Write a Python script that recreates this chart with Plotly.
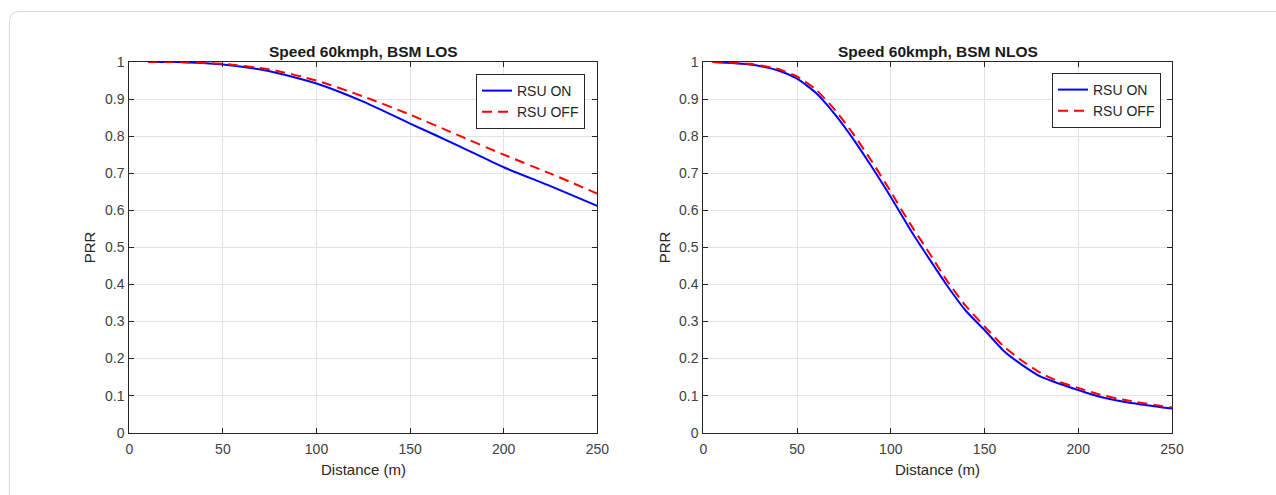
import plotly.graph_objects as go

# ---------------- data ----------------
los_x = [10, 25, 50, 75, 100, 125, 150, 175, 200, 225, 250]
los_on = [1.0, 1.0, 0.993, 0.975, 0.942, 0.893, 0.834, 0.776, 0.716, 0.665, 0.612]
los_off = [1.0, 1.0, 0.995, 0.980, 0.950, 0.907, 0.858, 0.804, 0.750, 0.699, 0.645]

nlos_x = [5, 25, 40, 50, 60, 70, 80, 90, 100, 110, 120, 130, 140, 150, 160, 170,
          180, 190, 200, 210, 225, 250]
nlos_on = [1.0, 0.993, 0.977, 0.955, 0.917, 0.860, 0.792, 0.716, 0.636, 0.551, 0.473,
           0.397, 0.329, 0.277, 0.222, 0.183, 0.151, 0.132, 0.115, 0.099, 0.083, 0.065]
nlos_off = [1.0, 0.995, 0.981, 0.961, 0.926, 0.872, 0.806, 0.731, 0.650, 0.566, 0.489,
            0.410, 0.342, 0.287, 0.234, 0.194, 0.161, 0.137, 0.121, 0.105, 0.088, 0.068]

titles = ["Speed 60kmph, BSM LOS", "Speed 60kmph, BSM NLOS"]
series_names = ["RSU ON", "RSU OFF"]
x_ticks = [0, 50, 100, 150, 200, 250]
y_ticks = [0, 0.1, 0.2, 0.3, 0.4, 0.5, 0.6, 0.7, 0.8, 0.9, 1]
y_tick_text = ["0", "0.1", "0.2", "0.3", "0.4", "0.5", "0.6", "0.7", "0.8", "0.9", "1"]

# ---------------- layout geometry ----------------
W, H = 1276, 495
def px(x):
    return x / W
def py(y):
    return 1 - y / H

dom_x1 = [px(129.3), px(597.3)]
dom_x2 = [px(703.3), px(1172)]
dom_y = [py(432.7), py(62)]

FONT = "Liberation Sans, Arial, Helvetica, sans-serif"
AXC = "#262626"
TICKC = "#404040"
GRID = "#e3e3e3"

fig = go.Figure()

fig.add_trace(go.Scatter(x=los_x, y=los_on, name=series_names[0], mode="lines",
                         line=dict(color="#0000ff", width=2, shape="spline", smoothing=0.6),
                         xaxis="x", yaxis="y", legend="legend"))
fig.add_trace(go.Scatter(x=los_x, y=los_off, name=series_names[1], mode="lines",
                         line=dict(color="#ff0000", width=2, dash="10px,6px", shape="spline", smoothing=0.6),
                         xaxis="x", yaxis="y", legend="legend"))
fig.add_trace(go.Scatter(x=nlos_x, y=nlos_on, name=series_names[0], mode="lines",
                         line=dict(color="#0000ff", width=2, shape="spline", smoothing=0.6),
                         xaxis="x2", yaxis="y2", legend="legend2"))
fig.add_trace(go.Scatter(x=nlos_x, y=nlos_off, name=series_names[1], mode="lines",
                         line=dict(color="#ff0000", width=2, dash="10px,6px", shape="spline", smoothing=0.6),
                         xaxis="x2", yaxis="y2", legend="legend2"))

axis_common = dict(
    showline=True, linecolor=AXC, linewidth=1, mirror="ticks",
    ticks="inside", ticklen=5, tickcolor=AXC, tickwidth=1,
    showgrid=True, gridcolor=GRID, gridwidth=1, zeroline=False,
    tickfont=dict(family=FONT, size=14, color=TICKC),
    automargin=False,
)

legend_common = dict(xanchor="right", yanchor="top",
                     bgcolor="white", bordercolor=AXC, borderwidth=1,
                     font=dict(family=FONT, size=14, color="#262626"),
                     tracegroupgap=0, itemwidth=30)

fig.update_layout(
    width=W, height=H,
    margin=dict(l=0, r=0, t=0, b=0),
    paper_bgcolor="white", plot_bgcolor="white",
    font=dict(family=FONT, size=13, color=TICKC),
    xaxis=dict(domain=dom_x1, range=[0, 250], tickvals=x_ticks, anchor="y",
               ticklabelstandoff=3, **axis_common),
    yaxis=dict(domain=dom_y, range=[0, 1], tickvals=y_ticks, ticktext=y_tick_text,
               anchor="x", ticklabelstandoff=1, **axis_common),
    xaxis2=dict(domain=dom_x2, range=[0, 250], tickvals=x_ticks, anchor="y2",
                ticklabelstandoff=3, **axis_common),
    yaxis2=dict(domain=dom_y, range=[0, 1], tickvals=y_ticks, ticktext=y_tick_text,
                anchor="x2", ticklabelstandoff=1, **axis_common),
    legend=dict(x=px(585), y=py(74), **legend_common),
    legend2=dict(x=px(1161), y=py(73), **legend_common),
    showlegend=True,
)

# titles and axis labels
annotations = []
for dom, t in zip([dom_x1, dom_x2], titles):
    cx = (dom[0] + dom[1]) / 2
    annotations.append(dict(x=cx, y=py(51), xref="paper", yref="paper", text="<b>" + t + "</b>",
                            showarrow=False, xanchor="center", yanchor="middle",
                            font=dict(family=FONT, size=15.5, color="#1a1a1a")))
    annotations.append(dict(x=cx, y=py(469), xref="paper", yref="paper", text="Distance (m)",
                            showarrow=False, xanchor="center", yanchor="middle",
                            font=dict(family=FONT, size=15, color="#262626")))
for xp in [89, 664]:
    annotations.append(dict(x=px(xp), y=(dom_y[0] + dom_y[1]) / 2, xref="paper", yref="paper",
                            text="PRR", textangle=-90, showarrow=False,
                            xanchor="center", yanchor="middle",
                            font=dict(family=FONT, size=15, color="#262626")))
fig.update_layout(annotations=annotations)

# card border with rounded corners (left/top visible)
x0, y0, r = 9.5, 11.5, 10
x1 = 1300
y1 = 520
path = (f"M {px(x0)},{py(y1)} L {px(x0)},{py(y0 + r)} "
        f"Q {px(x0)},{py(y0)} {px(x0 + r)},{py(y0)} L {px(x1)},{py(y0)}")
fig.add_shape(type="path", path=path, xref="paper", yref="paper",
              line=dict(color="#d9d9d9", width=1), layer="below")

fig.write_html("out.html")
